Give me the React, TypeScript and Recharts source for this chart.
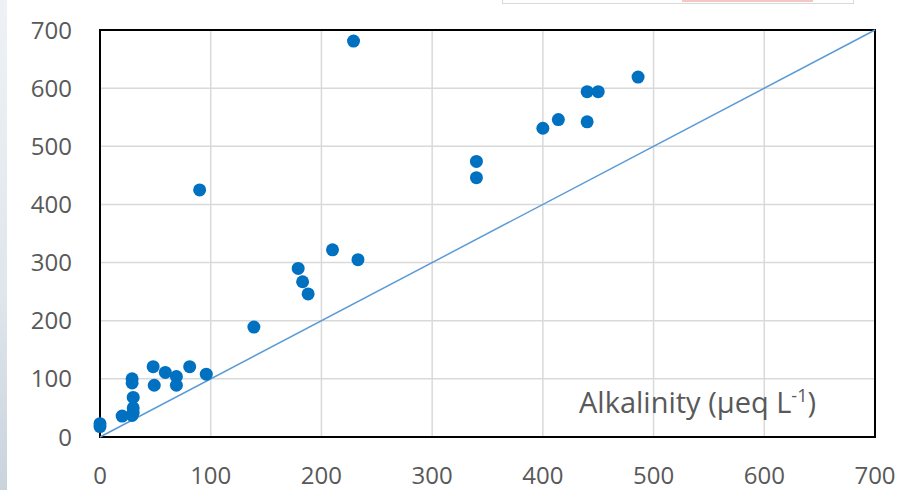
import React from 'react';
import { ScatterChart, Scatter, XAxis, YAxis, CartesianGrid, ReferenceLine, ReferenceArea } from 'recharts';

const alkalinity = [0, 0, 20, 29, 29, 30, 30, 30, 29, 48, 49, 59, 69, 69, 81, 96, 90, 139, 179, 183, 188, 210, 233, 229, 340, 340, 400, 414, 440, 440, 450, 486];
const measured = [18, 23, 36, 100, 93, 68, 50, 42, 37, 121, 89, 111, 104, 89, 121, 108, 425, 189, 290, 267, 246, 322, 305, 681, 474, 446, 531, 546, 594, 542, 594, 619];

const ticks = [0, 100, 200, 300, 400, 500, 600, 700];
const oneToOne = [{ x: 0, y: 0 }, { x: 700, y: 700 }];

const points = alkalinity.map((x, i) => ({ x, y: measured[i] }));

const FONT = '"Open Sans", sans-serif';
const tickStyle = { fontSize: 24, fill: '#595959', fontFamily: FONT };

const Dot = (props: any) => <circle cx={props.cx} cy={props.cy} r={6.5} fill="#0070C0" />;

export default function App() {
  return (
    <div style={{ position: 'absolute', left: 0, top: 0, width: 899, height: 490, background: '#fff', overflow: 'hidden' }}>
      {/* bits of the slide behind the chart */}
      <div style={{ position: 'absolute', left: 0, top: 0, width: 7, height: 490, background: 'linear-gradient(#eef2f6, #dfe6ec 60%, #c9d3dc)' }} />
      <div style={{ position: 'absolute', left: 502, top: -2, width: 350, height: 4, border: '1px solid #d9d9d9', background: '#fff' }} />
      <div style={{ position: 'absolute', left: 682, top: 0, width: 131, height: 2, background: '#f4c7c7' }} />

      <ScatterChart width={899} height={490} margin={{ top: 30, right: 24, bottom: 0, left: 0 }}>
        <CartesianGrid stroke="#d9d9d9" strokeWidth={1.5} horizontalValues={ticks} verticalValues={ticks} />
        <XAxis
          type="number"
          dataKey="x"
          domain={[0, 700]}
          ticks={ticks}
          height={53}
          tickLine={false}
          axisLine={false}
          tickSize={0}
          tickMargin={30}
          tick={tickStyle}
        />
        <YAxis
          type="number"
          dataKey="y"
          domain={[0, 700]}
          ticks={ticks}
          width={100}
          tickLine={false}
          axisLine={false}
          tickSize={0}
          tickMargin={28}
          tick={tickStyle}
        />
        <ReferenceArea x1={0} x2={700} y1={0} y2={700} fill="none" stroke="#000" strokeWidth={2} />
        <ReferenceLine segment={oneToOne} stroke="#5B9BD5" strokeWidth={1.5} />
        <Scatter data={points} shape={Dot} isAnimationActive={false} />
      </ScatterChart>

      <div style={{ position: 'absolute', left: 579, top: 385, fontFamily: FONT, fontSize: 29, color: '#595959', whiteSpace: 'nowrap', lineHeight: '34px' }}>
        Alkalinity (µeq L<sup style={{ fontSize: 18, lineHeight: 0 }}>-1</sup>)
      </div>
    </div>
  );
}
